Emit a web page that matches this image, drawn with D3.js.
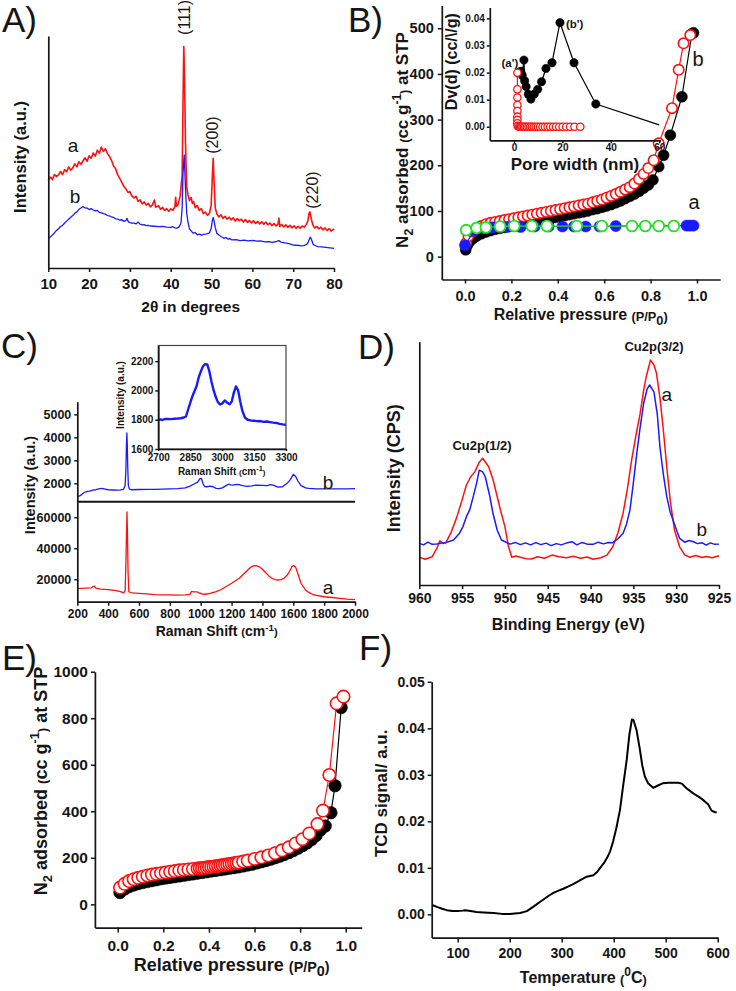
<!DOCTYPE html>
<html><head><meta charset="utf-8">
<script src="https://cdn.jsdelivr.net/npm/d3@7"></script>
<style>body{margin:0;background:#fff}</style>
</head><body>
<script>
// ---------------- DATA ----------------
// Panel A: XRD (2theta, intensity a.u.)
const xrdRed = [[10,37.8],[10.5,39.2],[11,38.1],[11.5,40.3],[12,39.4],[12.5,40.1],[13,41.6],[13.5,40.2],[14,42.4],[14.5,41.5],[15,43.6],[15.5,42.1],[16,43.2],[16.5,44.9],[17,43.6],[17.5,45.8],[18,44.7],[18.5,46.1],[19,47.5],[19.5,46.0],[20,48.4],[20.5,47.3],[21,49.6],[21.5,48.2],[22,50.8],[22.5,49.5],[23,52.1],[23.5,50.2],[24,51.4],[24.5,49.3],[25,48.1],[25.5,46.3],[26,44.0],[26.5,42.8],[27,40.1],[27.5,38.6],[28,36.9],[28.5,35.2],[29,34.1],[29.5,32.6],[30,32.9],[30.5,31.0],[31,30.2],[31.5,30.9],[32,28.7],[32.5,29.4],[33,27.6],[33.5,28.5],[34,27.1],[34.5,27.9],[35,26.3],[35.5,27.2],[36,29.3],[36.3,26.2],[37,26.9],[37.5,25.3],[38,26.1],[38.5,24.8],[39,25.6],[39.5,24.4],[40,25.5],[40.5,24.9],[41,26.3],[41.2,30.5],[41.4,26.6],[41.8,27.4],[42.3,31],[42.8,40],[43.0,70],[43.2,95.5],[43.4,80],[43.6,55],[43.9,35],[44.2,31.8],[44.6,29.0],[45,30.4],[45.3,27.8],[45.6,28.6],[46,26.0],[46.5,26.9],[47,24.8],[47.5,25.6],[48,23.4],[48.5,24.1],[49,22.7],[49.5,23.6],[49.9,27],[50.2,40],[50.4,47.3],[50.6,38],[50.9,26],[51.3,23.4],[51.8,22.0],[52.3,22.9],[52.8,21.4],[53.3,22.3],[53.8,21.0],[54.3,21.9],[54.8,20.7],[55.3,21.6],[55.8,20.2],[56.3,21.3],[56.8,20.4],[57.3,21.0],[57.8,19.8],[58.3,20.9],[58.8,19.7],[59.3,20.5],[59.8,19.4],[60.3,20.4],[60.8,19.2],[61.3,20.1],[61.8,19.0],[62.3,19.9],[62.8,18.9],[63.3,19.8],[63.8,18.6],[64.3,19.4],[64.8,18.3],[65.3,19.2],[65.8,18.1],[66.3,19.0],[66.5,21.5],[66.7,17.9],[67.2,18.8],[67.7,17.7],[68.2,18.6],[68.7,17.5],[69.2,18.4],[69.7,17.3],[70.2,18.2],[70.7,17.1],[71.2,18.0],[71.7,17.2],[72.2,18.1],[72.7,17.6],[73.2,18.8],[73.6,20.3],[73.9,23.6],[74.1,24.2],[74.4,21.5],[74.8,18.6],[75.3,17.2],[75.8,18.0],[76.3,16.8],[76.8,17.6],[77.3,16.4],[77.8,17.3],[78.3,16.1],[78.8,17.0],[79.3,15.9],[79.8,16.7],[80,16.3]];
const xrdBlue = [[10,12.8],[10.5,13.4],[11,14.2],[11.5,15.1],[12,16.2],[12.5,16.9],[13,17.9],[13.5,18.4],[14,19.4],[14.5,20.2],[15,21.0],[15.5,21.9],[16,22.6],[16.5,23.6],[17,24.2],[17.5,25.3],[18,25.9],[18.5,26.5],[19,25.9],[19.5,25.8],[20,25.2],[20.5,25.6],[21,25.0],[21.5,24.6],[22,24.8],[22.5,24.0],[23,23.8],[23.5,23.4],[24,23.2],[24.5,22.6],[25,22.5],[25.5,22.0],[26,21.8],[26.5,21.2],[27,21.1],[27.5,20.6],[28,20.8],[28.5,20.1],[29,20.4],[29.3,21.4],[29.6,19.9],[30,19.6],[30.5,19.4],[31,19.3],[31.5,19.0],[32,19.8],[32.5,18.9],[33,18.6],[33.5,18.7],[34,18.3],[34.5,18.4],[35,18.1],[36,18.0],[37,17.8],[38,17.9],[39,17.6],[40,17.5],[40.5,17.8],[41,17.3],[41.5,17.2],[42,17.6],[42.5,19.3],[42.8,26],[43.0,40.8],[43.3,48.7],[43.6,35],[43.9,24],[44.2,20],[44.6,16.8],[45,16],[45.5,15],[46,15.3],[46.5,14.3],[47,14.6],[47.5,14.2],[48,14.5],[48.5,14.6],[49,14.8],[49.5,15.2],[49.9,17],[50.2,20.5],[50.4,21.8],[50.6,20.4],[50.9,17.5],[51.3,15],[51.8,14.2],[52.3,13.6],[53,12.8],[53.5,13.1],[54,12.5],[54.5,12.6],[55,12.1],[56,12.2],[57,11.8],[58,12.0],[59,11.7],[60,11.9],[61,11.6],[62,11.7],[63,11.3],[64,11.4],[65,11.0],[66,11.5],[66.5,11.8],[67,11.2],[68,10.8],[69,10.5],[70,9.9],[71,9.8],[72,9.5],[72.5,9.6],[73,9.9],[73.5,10.5],[74,12.6],[74.2,13.3],[74.5,12.2],[74.9,10.2],[75.5,9.6],[76,9.2],[77,9.1],[78,8.9],[79,8.7],[80,8.5]];
const xrdTicks = [10,20,30,40,50,60,70,80];
const xrdPeakLabels = ["(111)","(200)","(220)"];
const xrdPeakLabelX = [44.7,51.6,76.2];
const xrdPeakLabelY = [108,57.3,33.6];

// Panel B: N2 isotherms
const isoB_ads = [[0.003,15],[0.01,25],[0.02,33],[0.035,40],[0.05,45],[0.07,50],[0.09,54],[0.11,57],[0.13,60],[0.15,62],[0.17,64],[0.19,66],[0.21,68],[0.23,70],[0.25,72],[0.27,74],[0.29,76],[0.31,77],[0.33,79],[0.35,81],[0.37,83],[0.39,86],[0.41,88],[0.43,90],[0.45,92],[0.47,94],[0.49,96],[0.51,98],[0.53,100],[0.55,103],[0.57,105],[0.59,108],[0.61,111],[0.63,114],[0.65,118],[0.67,122],[0.69,127],[0.71,132],[0.73,137],[0.75,143],[0.77,150],[0.79,157],[0.81,168],[0.835,197],[0.856,222],[0.885,266],[0.935,350],[0.978,488],[0.985,490]];
const isoB_des = [[0.005,30],[0.015,45],[0.03,55],[0.05,62],[0.07,67],[0.09,71],[0.11,74],[0.13,76],[0.15,78],[0.17,80],[0.19,82],[0.21,84],[0.23,86],[0.25,88],[0.27,90],[0.29,92],[0.31,94],[0.33,96],[0.35,98],[0.37,100],[0.39,102],[0.41,104],[0.43,106],[0.45,108],[0.47,110],[0.49,112],[0.51,114],[0.53,116],[0.55,119],[0.57,122],[0.59,125],[0.61,129],[0.63,133],[0.65,137],[0.67,142],[0.69,147],[0.71,152],[0.73,160],[0.75,170],[0.77,181],[0.79,194],[0.813,211],[0.835,248],[0.892,325],[0.921,409],[0.942,467],[0.971,485]];
const isoA_ads = [[0.0,25],[0.04,57],[0.08,62],[0.12,64],[0.18,65],[0.24,65],[0.30,66],[0.36,66],[0.42,66],[0.47,66],[0.52,66],[0.58,66],[0.65,67],[0.955,68],[0.97,68],[0.985,68]];
const isoA_des = [[0.005,58],[0.05,63],[0.09,64],[0.151,66],[0.212,67],[0.288,67],[0.353,67],[0.482,67],[0.59,67],[0.72,67],[0.777,67],[0.835,67],[0.9,67]];
const isoBTicksX = [0,0.2,0.4,0.6,0.8,1.0];
const isoBTicksY = [0,100,200,300,400,500];
// Panel B inset: pore size distribution
const psdB = [[2.8,0.0205],[3.4,0.0190],[4.1,0.0246],[4.4,0.0170],[5.0,0.0148],[5.9,0.0120],[7.0,0.0102],[8.4,0.0121],[9.8,0.0138],[11.4,0.0166],[13.2,0.0215],[15.7,0.0236],[19.0,0.0384],[24.8,0.0236],[33.8,0.0084],[60,0.0007]];
const psdA = [[1.4,0.0199],[1.4,0.0138],[1.4,0.0108],[1.4,0.0080],[1.4,0.0058],[1.4,0.0037],[1.4,0.0025],[1.4,0.0013],[1.5,0.0003],[2.0,0],[2.5,0],[3.0,0],[3.5,0],[4.1,0],[4.7,0],[5.3,0],[6.0,0],[6.7,0],[7.4,0],[8.2,0],[9.0,0],[9.9,0],[10.8,0],[11.8,0],[12.8,0],[13.9,0],[15.0,0],[16.2,0],[17.4,0],[18.7,0],[20.1,0],[21.6,0],[23.2,0],[25.0,0],[27.4,0]];
const psdTicksX = [0,20,40,60];
const psdTicksY = [0,0.01,0.02,0.03,0.04];

// Panel C: Raman
const ramanB = [[200,1420],[215,1450],[230,1520],[245,1600],[260,1640],[280,1660],[300,1700],[320,1720],[340,1760],[360,1780],[380,1750],[400,1720],[430,1710],[460,1700],[480,1710],[500,1740],[510,1900],[515,2600],[518,3500],[521,4190],[524,3700],[527,2700],[531,1900],[537,1760],[550,1720],[600,1730],[650,1740],[700,1740],[750,1750],[800,1760],[850,1770],[900,1800],[930,1880],[960,1980],[980,2050],[995,2200],[1005,2210],[1015,1980],[1025,1860],[1040,1850],[1060,1880],[1080,1850],[1100,1780],[1120,1770],[1140,1800],[1165,1900],[1180,1960],[1195,1930],[1210,1920],[1230,1950],[1250,1940],[1270,1900],[1300,1870],[1330,1890],[1360,1920],[1400,1910],[1430,1900],[1450,1940],[1470,1920],[1500,1830],[1530,1850],[1560,2000],[1580,2150],[1600,2390],[1615,2300],[1630,2100],[1650,1900],[1680,1800],[1700,1780],[1750,1760],[1800,1760],[1850,1755],[1900,1760],[1950,1755],[2000,1765]];
const ramanA = [[200,13900],[250,14200],[290,14400],[300,15200],[310,15600],[320,14300],[350,13600],[400,13300],[450,12600],[480,12000],[500,11200],[510,12500],[515,30000],[519,50000],[522,63400],[525,50000],[529,25000],[534,12000],[545,11400],[560,11200],[600,10900],[650,10500],[700,10100],[750,9900],[800,9850],[850,9800],[900,9850],[930,10200],[940,12100],[955,11800],[975,11900],[990,11200],[1010,10400],[1030,10300],[1060,10800],[1100,12000],[1130,13200],[1160,15000],[1200,17400],[1250,20600],[1290,24500],[1320,27400],[1340,28600],[1360,28700],[1380,28000],[1400,26400],[1420,24300],[1440,22300],[1460,20700],[1480,19800],[1500,19500],[1520,19700],[1540,20600],[1560,22500],[1575,25000],[1590,28000],[1600,28800],[1615,27800],[1630,23500],[1650,17400],[1680,13000],[1700,11500],[1730,10000],[1750,9600],[1800,8700],[1850,8200],[1900,7700],[1950,7200],[2000,6850]];
const ramanInset = [[2700,1800],[2710,1802],[2720,1798],[2730,1805],[2745,1806],[2760,1804],[2775,1807],[2790,1808],[2805,1810],[2820,1815],[2830,1822],[2840,1870],[2850,1915],[2860,1960],[2870,1995],[2880,2030],[2890,2090],[2900,2130],[2910,2165],[2920,2180],[2930,2178],[2940,2130],[2950,2060],[2960,2000],[2970,1955],[2980,1920],[2990,1904],[3000,1910],[3012,1932],[3022,1918],[3035,1905],[3045,1925],[3055,1985],[3065,2027],[3075,2000],[3085,1925],[3095,1860],[3107,1815],[3120,1800],[3135,1795],[3150,1793],[3165,1790],[3180,1791],[3195,1785],[3210,1788],[3225,1784],[3240,1780],[3255,1778],[3270,1772],[3285,1768],[3300,1765]];
const ramanTicksX = [200,400,600,800,1000,1200,1400,1600,1800,2000];
const ramanTicksYb = [2000,3000,4000,5000];
const ramanTicksYa = [20000,40000,60000];
const ramanInsetTicksX = [2700,2850,3000,3150,3300];
const ramanInsetTicksY = [1600,1800,2000,2200];

// Panel D: XPS Cu2p
const xpsA = [[960,11.4],[959.3,10.6],[958.5,11.6],[957.9,15.5],[957.6,18.2],[957.2,17.0],[956.9,17.4],[956.3,21.5],[955.6,28.1],[955.0,35.0],[954.5,41.1],[954.0,44.5],[953.5,46.6],[953.0,50.5],[952.6,52.1],[951.9,48.6],[951.4,43.5],[951.0,37.7],[950.5,30.5],[950.0,24.0],[949.6,16.0],[949.2,11.4],[948.7,11.9],[948.2,11.4],[947.5,10.8],[946.9,10.7],[946.2,11.6],[945.4,11.0],[944.5,12.3],[943.7,11.6],[942.8,11.2],[942.0,11.8],[941.2,11.0],[940.4,11.5],[939.7,10.6],[938.8,11.2],[938.1,12.3],[937.4,15.7],[936.8,21.5],[936.2,29.5],[935.7,39.5],[935.2,51.4],[934.7,61.5],[934.2,70.6],[933.8,80.0],[933.5,85.6],[933.0,92.5],[932.6,90.5],[932.3,87.0],[931.9,77.0],[931.5,63.7],[931.1,48.5],[930.7,34.9],[930.2,22.6],[929.6,15.7],[929.0,12.4],[928.4,11.4],[927.7,12.1],[927.0,11.3],[926.5,11.7],[925.8,11.2],[925,12.0]];
const xpsB = [[960,17.1],[959.5,16.5],[959.0,17.6],[958.5,16.7],[958.0,16.8],[957.5,17.3],[956.9,17.4],[956.0,18.5],[955.3,21.3],[954.9,24.0],[954.5,28.1],[954.1,31.0],[953.7,36.3],[953.3,42.0],[953.0,47.2],[952.6,46.5],[952.3,44.5],[951.8,37.0],[951.4,29.5],[950.9,22.5],[950.4,18.5],[949.4,16.8],[948.8,17.5],[948.2,16.6],[947.6,17.3],[947.0,16.5],[946.4,17.4],[945.8,16.6],[945.2,17.2],[944.6,16.2],[944.0,17.0],[943.4,16.5],[942.8,17.3],[942.2,17.8],[941.6,16.5],[941.0,17.5],[940.4,16.8],[939.7,16.7],[939.1,17.6],[938.5,16.9],[937.9,17.5],[937.4,17.4],[936.8,19.0],[936.2,21.3],[935.8,25.0],[935.4,30.8],[935.0,42.0],[934.6,54.1],[934.2,65.0],[933.8,74.6],[933.4,80.5],[933.1,82.2],[932.6,79.4],[932.2,70.0],[931.9,56.8],[931.5,45.5],[931.1,36.3],[930.7,30.0],[930.3,26.0],[929.9,22.0],[929.6,19.2],[929.0,17.6],[928.5,18.3],[928.0,17.8],[927.5,17.0],[927.0,17.4],[926.5,16.4],[926.0,17.3],[925.5,16.7],[925,16.8]];
const xpsTicksX = [960,955,950,945,940,935,930,925];

// Panel E: N2 isotherms
const isoE_ads = [[0.01,51],[0.03,66],[0.05,76],[0.07,83],[0.09,89],[0.11,94],[0.13,98],[0.15,102],[0.17,106],[0.19,110],[0.21,113],[0.23,116],[0.25,119],[0.27,122],[0.29,125],[0.31,128],[0.33,131],[0.35,134],[0.37,137],[0.39,140],[0.41,143],[0.43,146],[0.45,149],[0.47,152],[0.49,155],[0.51,158],[0.53,161],[0.55,165],[0.57,169],[0.59,173],[0.61,178],[0.63,183],[0.65,188],[0.67,194],[0.69,200],[0.71,207],[0.73,214],[0.75,222],[0.77,231],[0.79,241],[0.81,252],[0.83,264],[0.85,278],[0.87,296],[0.89,320],[0.91,337],[0.935,394],[0.953,510],[0.98,846],[0.99,890]];
const isoE_des = [[0.01,72],[0.03,88],[0.05,100],[0.07,108],[0.09,114],[0.11,119],[0.13,124],[0.15,128],[0.17,131],[0.19,134],[0.21,137],[0.23,140],[0.25,143],[0.27,146],[0.29,148],[0.31,150],[0.33,152],[0.35,154],[0.36,155],[0.37,156],[0.38,157],[0.39,158],[0.40,160],[0.41,161],[0.42,162],[0.43,164],[0.44,165],[0.45,167],[0.46,168],[0.47,170],[0.48,171],[0.49,173],[0.50,175],[0.51,177],[0.52,178],[0.53,180],[0.55,184],[0.57,188],[0.60,195],[0.63,202],[0.66,210],[0.69,220],[0.72,232],[0.75,245],[0.78,262],[0.81,280],[0.84,305],[0.876,345],[0.9,403],[0.928,556],[0.96,864],[0.99,893]];
const isoETicksX = [0,0.2,0.4,0.6,0.8,1.0];
const isoETicksY = [0,200,400,600,800,1000];

// Panel F: TPR
const tpr = [[51,0.0020],[60,0.0016],[70,0.0012],[79,0.0009],[90,0.0007],[100,0.0007],[110,0.0008],[114,0.0009],[125,0.0007],[136,0.0005],[150,0.0004],[169,0.0003],[185,0.0001],[200,0.0001],[220,0.0003],[233,0.0007],[245,0.0016],[256,0.0025],[265,0.0032],[275,0.0040],[284,0.0046],[294,0.0051],[303,0.0055],[313,0.0060],[322,0.0065],[335,0.0073],[348,0.0081],[361,0.0084],[368,0.0091],[374,0.0100],[381,0.0110],[387,0.0121],[393,0.0135],[399,0.0157],[405,0.0185],[412,0.0224],[418,0.0275],[425,0.0332],[430,0.0385],[435,0.0419],[438,0.0418],[444,0.0396],[450,0.0357],[455,0.0320],[460,0.0296],[466,0.0282],[476,0.0272],[485,0.0277],[495,0.0282],[505,0.0283],[515,0.0283],[524,0.0283],[531,0.0281],[540,0.0271],[553,0.0260],[563,0.0253],[572,0.0246],[578,0.0240],[582,0.0236],[588,0.0223],[594,0.0220],[598,0.0219]];
const tprTicksX = [100,200,300,400,500,600];
const tprTicksY = [0,0.01,0.02,0.03,0.04,0.05];

// ---------------- DRAWING ----------------
const FONT = '"Liberation Sans", Arial, Helvetica, sans-serif';
const RED = "#ff1010", BLUE = "#1a1aff", GREEN = "#22e022", INK = "#151515";
const fmtInt = d3.format("d"), fmt1 = d3.format(".1f"), fmt2 = d3.format(".2f");
const svg = d3.select("body").append("svg").attr("width",736).attr("height",991)
  .style("font-family", FONT);

function drawAxis(axis, tx, ty, fs) {
  const g = svg.append("g").attr("transform", `translate(${tx},${ty})`).call(axis);
  g.attr("font-family", FONT).attr("font-size", fs).attr("font-weight", "bold");
  g.select(".domain").attr("stroke", INK).attr("stroke-width", 1.7);
  g.selectAll(".tick line").attr("stroke", INK).attr("stroke-width", 1.5);
  g.selectAll(".tick text").attr("fill", INK);
  return g;
}
function rich(x, y, rot, size, parts, weight, anchor) {
  const t = svg.append("text")
    .attr("transform", `translate(${x},${y}) rotate(${rot})`)
    .attr("text-anchor", anchor || "middle")
    .attr("font-size", size).attr("font-weight", weight || "bold").attr("fill", INK);
  let cur = 0;
  parts.forEach(p => {
    if (typeof p === "string") p = {t: p};
    const sh = (p.sh || 0) * size;
    t.append("tspan").text(p.t).attr("dy", sh - cur).attr("font-size", (p.s || 1) * size);
    cur = sh;
  });
  return t;
}
function label(x, y, txt, size, weight, anchor) {
  return svg.append("text").attr("x", x).attr("y", y).text(txt)
    .attr("font-size", size).attr("font-weight", weight || "normal")
    .attr("text-anchor", anchor || "middle").attr("fill", INK);
}
function line(data, x, y, color, w) {
  svg.append("path").datum(data)
    .attr("d", d3.line().x(d => x(d[0])).y(d => y(d[1])))
    .attr("fill", "none").attr("stroke", color).attr("stroke-width", w)
    .attr("stroke-linejoin", "round");
}
function dots(data, x, y, r, fill, stroke, sw) {
  svg.append("g").selectAll("circle").data(data).join("circle")
    .attr("cx", d => x(d[0])).attr("cy", d => y(d[1])).attr("r", r)
    .attr("fill", fill).attr("stroke", stroke).attr("stroke-width", sw);
}
const n2Title = [ "N", {t:"2", s:0.72, sh:0.3}, {t:" adsorbed ", sh:0}, {t:"(", s:0.75, sh:0.05}, {t:"cc g", sh:0},
  {t:"-1", s:0.7, sh:-0.42}, {t:")", s:0.75, sh:0.05}, {t:" at STP", sh:0} ];
const ppTitle = [ "Relative pressure ", {t:"(P/P", s:0.8, sh:0.05}, {t:"0", s:0.8, sh:0.3}, {t:")", s:0.8, sh:0.05} ];

// Panel letters
label(2, 32, "A)", 35, "normal", "start");
label(348, 32, "B)", 35, "normal", "start");
label(1, 358, "C)", 35, "normal", "start");
label(358, 359, "D)", 35, "normal", "start");
label(2, 670, "E)", 35, "normal", "start");
label(359, 660, "F)", 35, "normal", "start");

// ===== Panel A =====
{
  const x = d3.scaleLinear().domain([10,80]).range([48.3,334]);
  const y = d3.scaleLinear().domain([0,100]).range([268,36]);
  line(xrdRed, x, y, RED, 1.6);
  line(xrdBlue, x, y, BLUE, 1.3);
  drawAxis(d3.axisBottom(x).tickValues(xrdTicks).tickFormat(fmtInt).tickSize(4).tickPadding(6).tickSizeOuter(0), 0, 268, 15);
  drawAxis(d3.axisLeft(y).tickValues([]).tickSizeOuter(0), 48.3, 0, 15);
  rich(26, 157, -90, 16.5, ["Intensity (a.u.)"]);
  rich(190.7, 311.7, 0, 15.5, ["2θ in degrees"]);
  xrdPeakLabels.forEach((t, i) => rich(x(xrdPeakLabelX[i]), y(xrdPeakLabelY[i]), -90, 16, [t], "normal"));
  label(73, 151.7, "a", 19);
  label(75, 202.7, "b", 19);
}

// ===== Panel B =====
{
  const x = d3.scaleLinear().domain([-0.1,1.1]).range([441.8,720.2]);
  const y = d3.scaleLinear().domain([-50,550]).range([279.5,5.4]);
  line(isoB_ads, x, y, "#000", 1.2);
  dots(isoB_ads, x, y, 5.5, "#000", "#000", 0.5);
  line(isoB_des, x, y, RED, 1.2);
  dots(isoB_des, x, y, 5.2, "#fff", RED, 1.6);
  line(isoA_ads, x, y, BLUE, 1.2);
  dots(isoA_ads, x, y, 5.6, BLUE, BLUE, 0.5);
  line(isoA_des, x, y, GREEN, 1.2);
  dots(isoA_des, x, y, 5.4, "#fff", GREEN, 1.8);
  drawAxis(d3.axisBottom(x).tickValues(isoBTicksX).tickFormat(fmt1).tickSize(4).tickPadding(7).tickSizeOuter(0), 0, 279.5, 14.5);
  drawAxis(d3.axisLeft(y).tickValues(isoBTicksY).tickFormat(fmtInt).tickSize(4).tickPadding(4).tickSizeOuter(0), 441.8, 0, 14.5);
  rich(408, 140, -90, 17, n2Title);
  rich(580.7, 320, 0, 16, ppTitle);
  label(694, 209.3, "a", 20);
  label(698, 66, "b", 20);

  // inset
  const xi = d3.scaleLinear().domain([-10,60.5]).range([489.8,660.4]);
  const yi = d3.scaleLinear().domain([-0.005,0.044]).range([140.3,7.5]);
  line(psdB, xi, yi, "#000", 1.2);
  dots(psdB.slice(0, -1), xi, yi, 4.2, "#000", "#000", 0.5);
  line(psdA, xi, yi, RED, 1.2);
  dots(psdA, xi, yi, 3.7, "#fff", RED, 1.3);
  drawAxis(d3.axisBottom(xi).tickValues(psdTicksX).tickFormat(fmtInt).tickSize(3).tickPadding(1).tickSizeOuter(0), 0, 140.3, 10);
  drawAxis(d3.axisLeft(yi).tickValues(psdTicksY).tickFormat(fmt2).tickSize(3).tickPadding(2).tickSizeOuter(0), 489.8, 0, 10);
  rich(457.4, 61.7, -90, 16, ["Dv(d) (cc/\\/g)"]);
  rich(575, 170, 0, 17, ["Pore width (nm)"]);
  label(518.3, 66.7, "(a')", 11.5, "bold", "end");
  label(566, 28.3, "(b')", 11.5, "bold", "start");
}

// ===== Panel C =====
{
  const x = d3.scaleLinear().domain([200,2000]).range([77.3,355]);
  const yb = d3.scaleLinear().domain([1200,5550]).range([501.7,401.7]);
  const ya = d3.scaleLinear().domain([5500,70000]).range([601.7,501.7]);
  line(ramanB, x, yb, BLUE, 1.3);
  line(ramanA, x, ya, RED, 1.3);
  drawAxis(d3.axisBottom(x).tickValues(ramanTicksX).tickFormat(fmtInt).tickSize(4).tickPadding(4).tickSizeOuter(0), 0, 601.7, 12);
  drawAxis(d3.axisLeft(yb).tickValues(ramanTicksYb).tickFormat(fmtInt).tickSize(3).tickPadding(3).tickSizeOuter(0), 77.3, 0, 12.5);
  drawAxis(d3.axisLeft(ya).tickValues(ramanTicksYa).tickFormat(fmtInt).tickSize(3).tickPadding(3).tickSizeOuter(0), 77.3, 0, 12.5);
  svg.append("line").attr("x1", x(200)).attr("x2", x(2000)).attr("y1", ya(70000)).attr("y2", ya(70000))
    .attr("stroke", INK).attr("stroke-width", 2);
  rich(35.4, 485, -90, 14.5, ["Intensity (a.u.)"]);
  rich(216.7, 636, 0, 14, ["Raman Shift ", {t:"(", s:0.8}, {t:"cm"}, {t:"-1", s:0.7, sh:-0.35}, {t:")", s:0.8, sh:0}]);
  label(328, 489, "b", 19);
  label(328, 594.3, "a", 19);

  // inset
  const xi = d3.scaleLinear().domain([2700,3300]).range([158.3,286]);
  const yi = d3.scaleLinear().domain([1600,2307]).range([449,345.5]);
  line(ramanInset, xi, yi, BLUE, 2.4);
  svg.append("rect").attr("x", 158.3).attr("y", 345.5).attr("width", 286-158.3).attr("height", 449-345.5)
    .attr("fill", "none").attr("stroke", "#444").attr("stroke-width", 1.2);
  drawAxis(d3.axisBottom(xi).tickValues(ramanInsetTicksX).tickFormat(fmtInt).tickSize(2).tickPadding(3).tickSizeOuter(0), 0, 449, 10);
  drawAxis(d3.axisLeft(yi).tickValues(ramanInsetTicksY).tickFormat(fmtInt).tickSize(3).tickPadding(2).tickSizeOuter(0), 158.3, 0, 10);
  rich(124.3, 395, -90, 10, ["Intensity (a.u.)"]);
  rich(221.7, 475, 0, 10, ["Raman Shift ", {t:"(", s:0.8}, {t:"cm"}, {t:"-1", s:0.75, sh:-0.4}, {t:")", s:0.8, sh:0}]);
}

// ===== Panel D =====
{
  const x = d3.scaleLinear().domain([960,925]).range([419.3,719]);
  const y = d3.scaleLinear().domain([0,100]).range([585,341.7]);
  line(xpsA, x, y, RED, 1.5);
  line(xpsB, x, y, BLUE, 1.5);
  drawAxis(d3.axisBottom(x).tickValues(xpsTicksX).tickFormat(fmtInt).tickSize(4).tickPadding(4).tickSizeOuter(0), 0, 585, 14);
  drawAxis(d3.axisLeft(y).tickValues([]).tickSizeOuter(0), 419.3, 0, 14);
  rich(399.6, 468.3, -90, 18, ["Intensity (CPS)"]);
  rich(568.3, 630, 0, 16, ["Binding Energy (eV)"]);
  label(482, 450, "Cu2p(1/2)", 13, "bold");
  label(654, 350.7, "Cu2p(3/2)", 13, "bold");
  label(666.7, 401, "a", 19);
  label(701.7, 536, "b", 19);
}

// ===== Panel E =====
{
  const x = d3.scaleLinear().domain([-0.1,1.07]).range([94.9,361.7]);
  const y = d3.scaleLinear().domain([-100,1000]).range([927.6,671.7]);
  line(isoE_ads, x, y, "#000", 1.2);
  dots(isoE_ads, x, y, 6.3, "#000", "#000", 0.5);
  line(isoE_des, x, y, RED, 1.2);
  dots(isoE_des, x, y, 6.2, "#fff", RED, 1.6);
  drawAxis(d3.axisBottom(x).tickValues(isoETicksX).tickFormat(fmt1).tickSize(5).tickPadding(7).tickSizeOuter(0), 0, 927.6, 15.5);
  drawAxis(d3.axisLeft(y).tickValues(isoETicksY).tickFormat(fmtInt).tickSize(4).tickPadding(3).tickSizeOuter(0), 94.9, 0, 15.5);
  rich(46.5, 781, -90, 18, n2Title);
  rich(231.7, 971, 0, 18, ppTitle);
}

// ===== Panel F =====
{
  const x = d3.scaleLinear().domain([50,600]).range([431.7,717.7]);
  const y = d3.scaleLinear().domain([-0.005,0.05]).range([937.6,681.8]);
  line(tpr, x, y, "#000", 2);
  drawAxis(d3.axisBottom(x).tickValues(tprTicksX).tickFormat(fmtInt).tickSize(5).tickPadding(5).tickSizeOuter(0), 0, 937.6, 14);
  drawAxis(d3.axisLeft(y).tickValues(tprTicksY).tickFormat(fmt2).tickSize(4).tickPadding(3).tickSizeOuter(0), 431.7, 0, 14);
  rich(387, 793.3, -90, 17, ["TCD signal/ a.u."]);
  rich(583.3, 983, 0, 16, ["Temperature ", {t:"(", s:0.8, sh:0.05}, {t:"0", s:0.75, sh:-0.45}, {t:"C", sh:0}, {t:")", s:0.8, sh:0.05}]);
}
</script>
</body></html>
